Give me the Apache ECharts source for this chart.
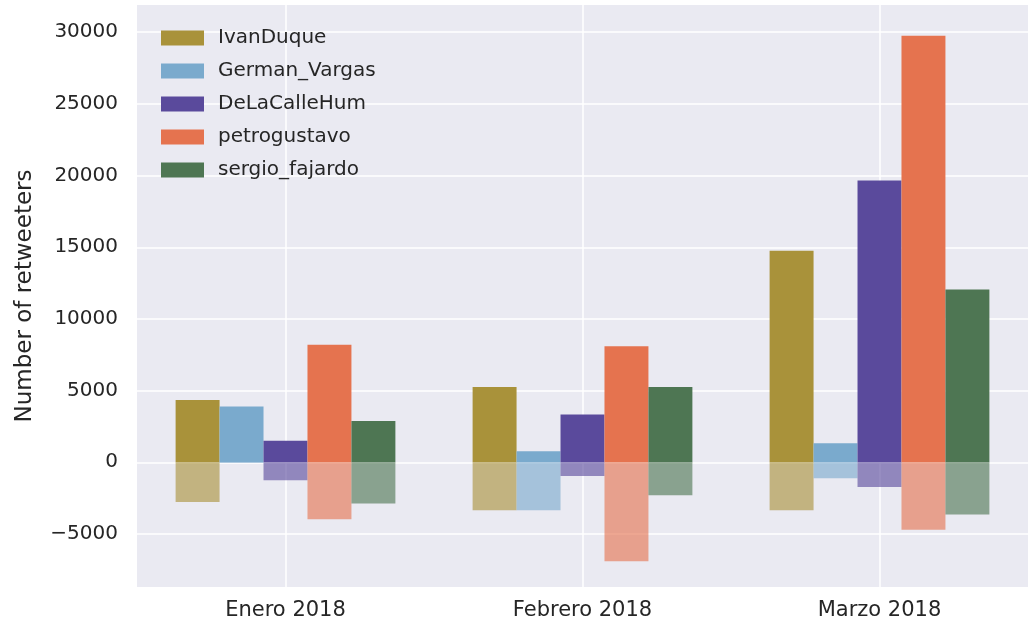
<!DOCTYPE html>
<html>
<head>
<meta charset="utf-8">
<script src="https://cdn.jsdelivr.net/npm/echarts@6/dist/echarts.min.js"></script>
<style>
  html, body { margin: 0; padding: 0; background: #fff; }
  #chart { width: 1033px; height: 626px; }
</style>
</head>
<body>
<div id="chart"></div>
<script>
  const months = ['Enero 2018', 'Febrero 2018', 'Marzo 2018']
  const users = ['IvanDuque', 'German_Vargas', 'DeLaCalleHum', 'petrogustavo', 'sergio_fajardo']
  const colors = ['#a9923a', '#7aaacd', '#5a4a9c', '#e5734f', '#4e7653']
  // retweeters a favor (positivos) por mes
  const positive = {
    IvanDuque: [4350, 5250, 14750],
    German_Vargas: [3900, 770, 1330],
    DeLaCalleHum: [1500, 3330, 19650],
    petrogustavo: [8200, 8100, 29750],
    sergio_fajardo: [2880, 5250, 12050]
  }
  // retweeters en contra (negativos)
  const negative = {
    IvanDuque: [-2770, -3350, -3350],
    German_Vargas: [-50, -3350, -1120],
    DeLaCalleHum: [-1260, -950, -1730],
    petrogustavo: [-3980, -6900, -4700],
    sergio_fajardo: [-2880, -2300, -3640]
  }
  const yTicks = [-5000, 0, 5000, 10000, 15000, 20000, 25000, 30000]

  const font = 'DejaVu Sans'
  const textColor = '#262626'

  const series = []
  users.forEach((u, i) => {
    series.push({
      name: u,
      type: 'bar',
      stack: u,
      barGap: '0%',
      barCategoryGap: '26%',
      itemStyle: { color: colors[i] },
      data: positive[u]
    })
  })
  users.forEach((u, i) => {
    series.push({
      name: u + ' (neg)',
      type: 'bar',
      stack: u,
      barGap: '0%',
      barCategoryGap: '26%',
      itemStyle: { color: colors[i], opacity: 0.62 },
      data: negative[u]
    })
  })

  const chart = echarts.init(document.getElementById('chart'))
  chart.setOption({
    animation: false,
    grid: {
      left: 137,
      right: 5,
      top: 5,
      bottom: 39,
      outerBoundsMode: 'none',
      containLabel: false,
      show: true,
      backgroundColor: '#eaeaf2',
      borderWidth: 0
    },
    legend: {
      data: users,
      orient: 'vertical',
      left: 156,
      top: 23,
      itemWidth: 43,
      itemHeight: 15,
      itemGap: 13,
      icon: 'rect',
      textStyle: { fontFamily: font, fontSize: 20, color: textColor, padding: [0, 0, 0, 9] }
    },
    xAxis: {
      type: 'category',
      data: months,
      axisLine: { show: false },
      axisTick: { show: false, alignWithLabel: true },
      splitLine: { show: true, alignWithLabel: true, lineStyle: { color: '#fff', width: 1.5 } },
      axisLabel: { fontFamily: font, fontSize: 21, color: textColor, margin: 13 }
    },
    yAxis: {
      type: 'value',
      min: -8700,
      max: 31900,
      name: 'Number of retweeters',
      nameLocation: 'middle',
      nameGap: 100,
      nameTextStyle: { fontFamily: font, fontSize: 23, color: textColor },
      axisLine: { show: false },
      axisTick: { show: false, customValues: yTicks },
      splitLine: { show: true, lineStyle: { color: '#fff', width: 1.5 } },
      axisLabel: {
        customValues: yTicks,
        fontFamily: font,
        fontSize: 20,
        color: textColor,
        margin: 19,
        formatter: v => v < 0 ? '\u2212' + Math.abs(v) : String(v)
      }
    },
    series: series
  })
</script>
</body>
</html>
